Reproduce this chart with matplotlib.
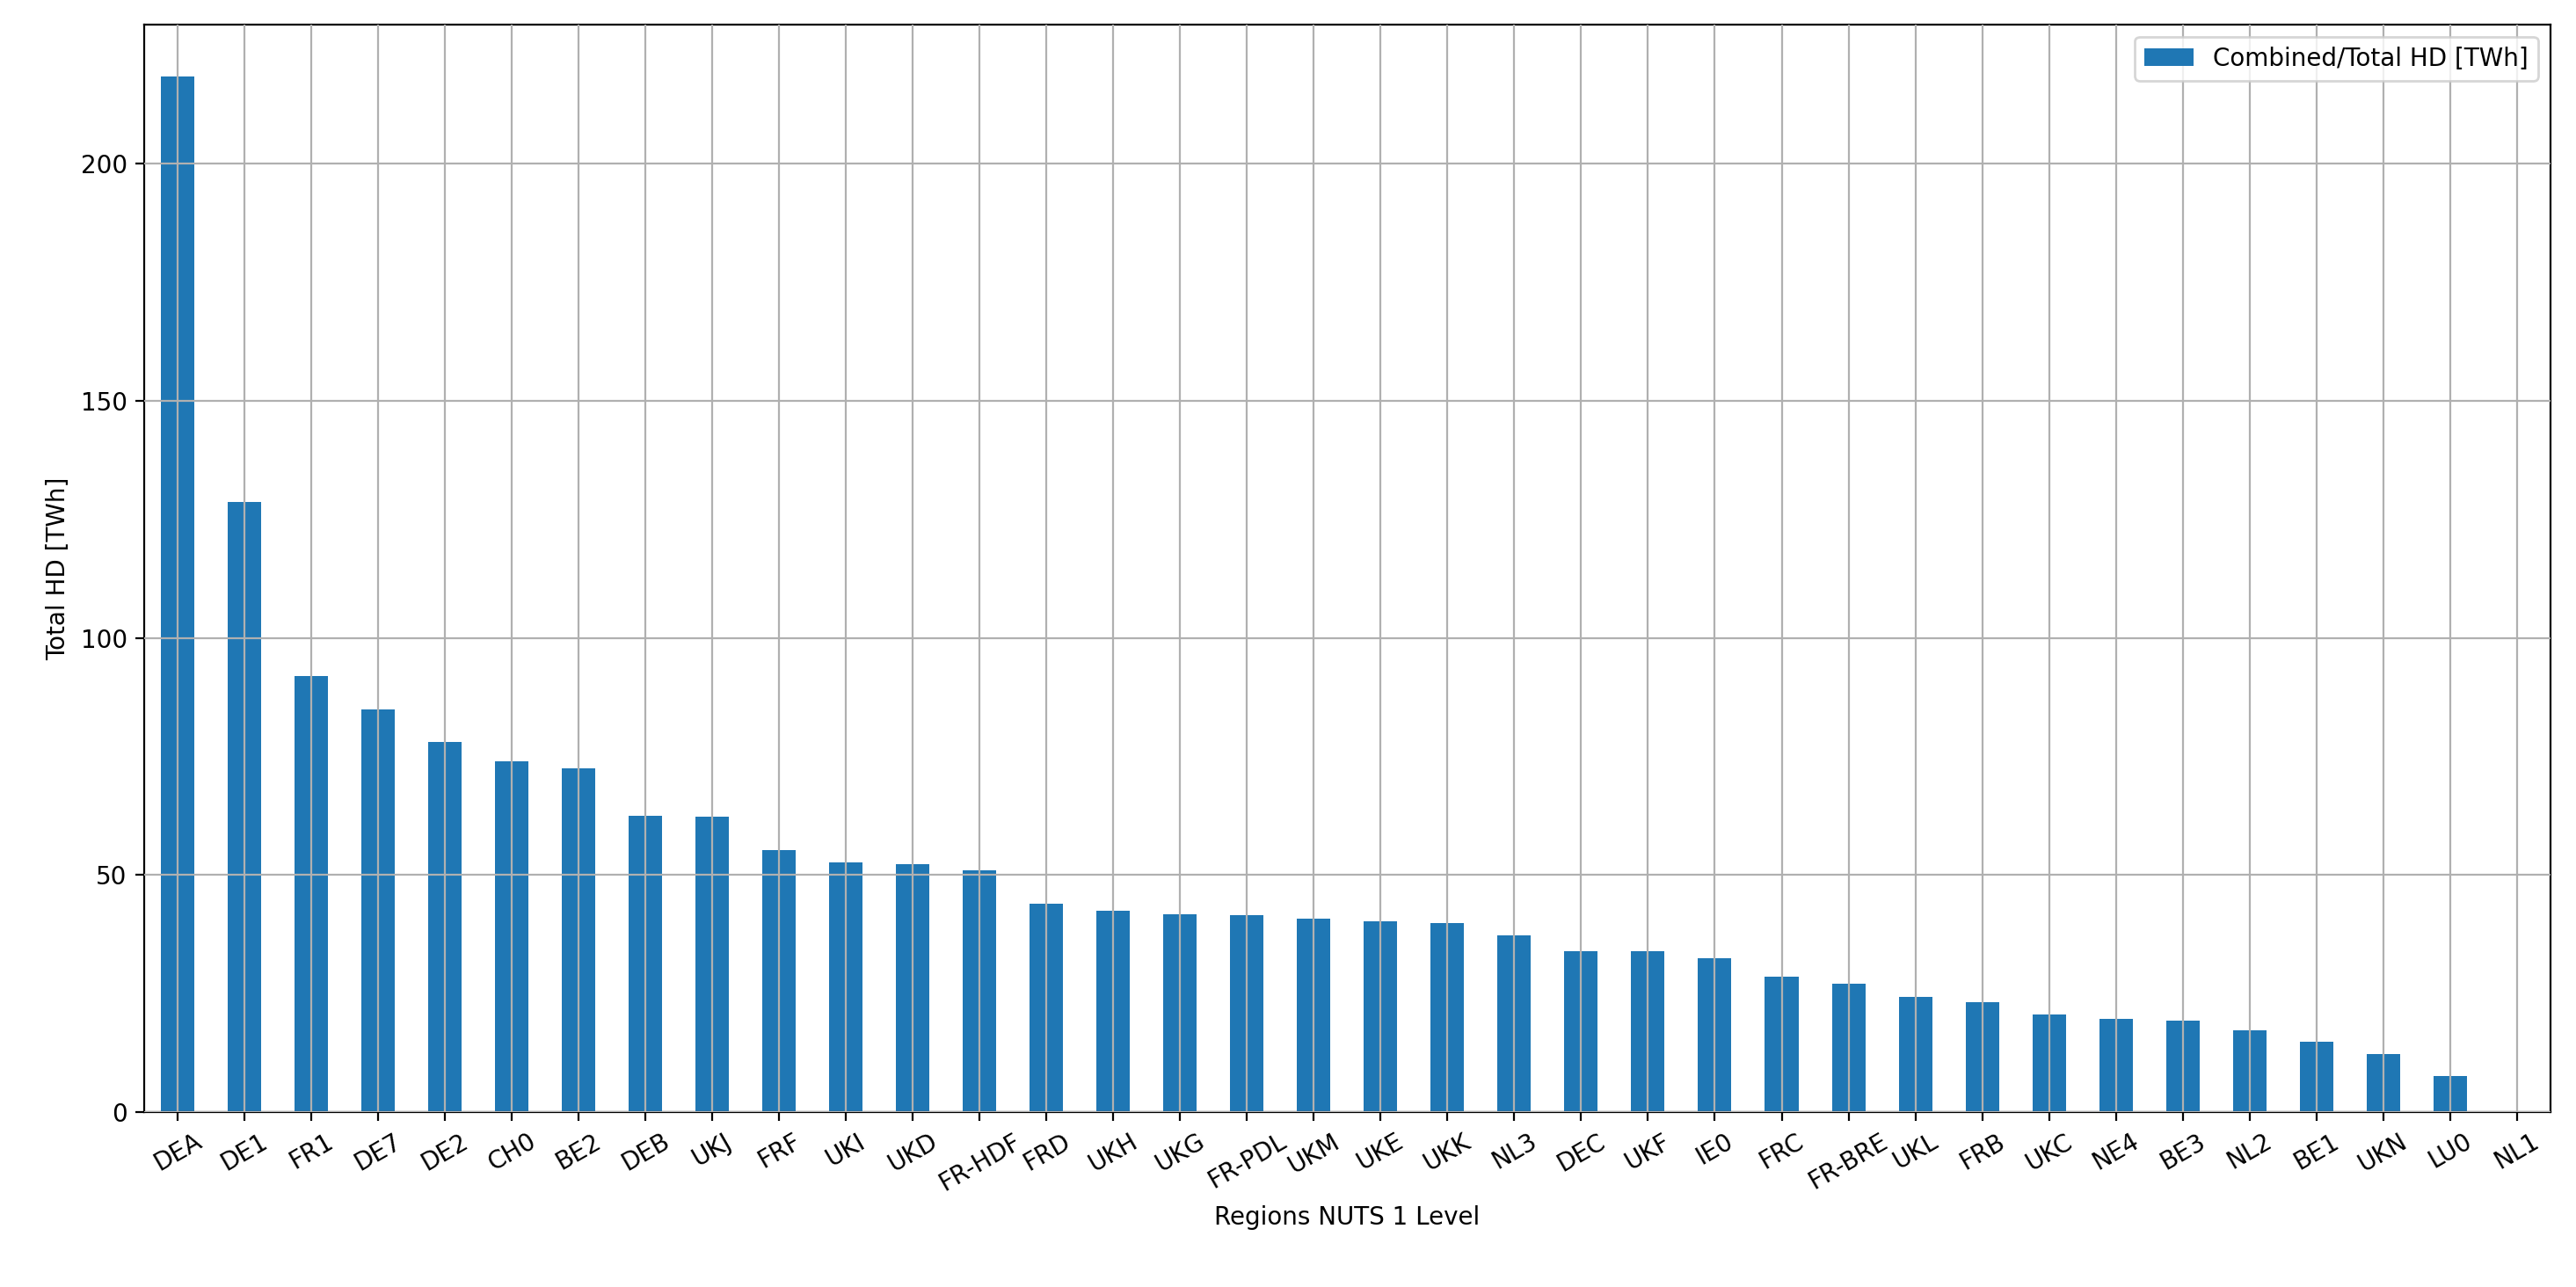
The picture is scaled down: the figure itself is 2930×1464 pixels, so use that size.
import matplotlib
matplotlib.use("Agg")
import matplotlib.pyplot as plt
import pandas as pd

regions = ["DEA","DE1","FR1","DE7","DE2","CH0","BE2","DEB","UKJ","FRF","UKI","UKD","FR-HDF","FRD","UKH","UKG","FR-PDL","UKM","UKE","UKK","NL3","DEC","UKF","IE0","FRC","FR-BRE","UKL","FRB","UKC","NE4","BE3","NL2","BE1","UKN","LU0","NL1"]
values = [218.5,128.7,92.0,85.0,78.0,74.0,72.5,62.5,62.3,55.2,52.7,52.2,51.0,44.0,42.5,41.8,41.5,40.8,40.3,39.8,37.2,34.0,34.0,32.5,28.5,27.0,24.3,23.2,20.5,19.7,19.2,17.2,14.8,12.3,7.5,0.0]

df = pd.DataFrame({"Combined/Total HD [TWh]": values}, index=regions)
fig, ax = plt.subplots(figsize=(14.65, 7.32), dpi=200)
df.plot.bar(ax=ax, color="#1f77b4")
ax.set_axisbelow(False)
ax.grid(True, color="#b0b0b0")
ax.set_xlabel("Regions NUTS 1 Level")
ax.set_ylabel("Total HD [TWh]")
plt.setp(ax.get_xticklabels(), rotation=30)
ax.legend(loc="upper right")
fig.subplots_adjust(left=0.056, right=0.99, top=0.981, bottom=0.136)
fig.savefig("out.png", dpi=200)
